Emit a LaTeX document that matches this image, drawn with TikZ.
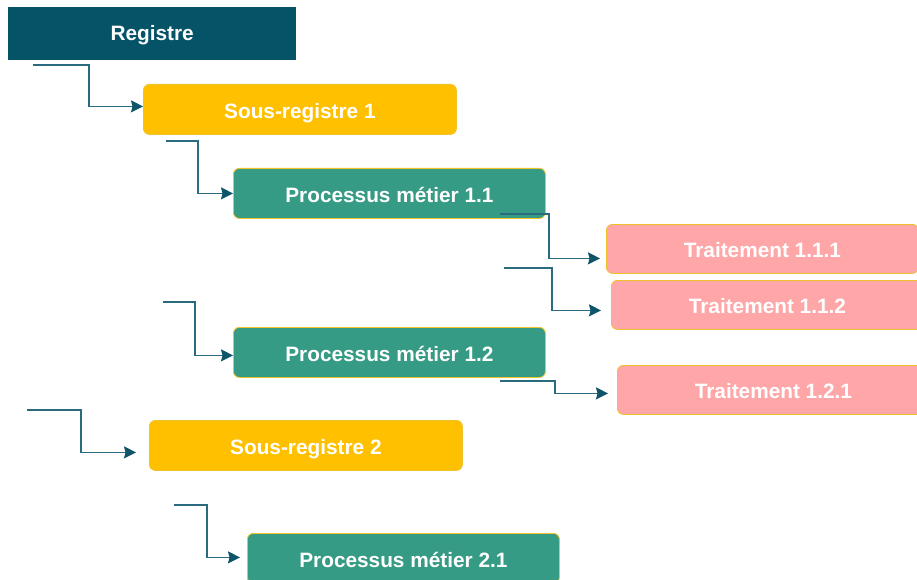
\documentclass[tikz,border=0pt]{standalone}
\usepackage{fontspec}
\setmainfont{Liberation Sans}
\usetikzlibrary{arrows.meta}

\definecolor{regteal}{HTML}{045366}
\definecolor{sousjaune}{HTML}{FFC000}
\definecolor{procvert}{HTML}{369B85}
\definecolor{traitrose}{HTML}{FFA6A8}
\definecolor{bordjaune}{HTML}{EEC22A}
\definecolor{lienbleu}{HTML}{2A6B80}
\definecolor{pointebleu}{HTML}{0F556A}

\tikzset{
  boite/.style = {anchor=north west, inner sep=0pt, text=white,
    font=\fontsize{20.8}{24}\selectfont\bfseries, text height=20pt, text depth=2pt},
  registre/.style = {boite, fill=regteal, minimum width=288pt, minimum height=53pt,
    text height=17pt, text depth=4pt},
  sousreg/.style = {boite, fill=sousjaune, draw=bordjaune, line width=0.8pt,
    rounded corners=6pt, minimum width=313pt, minimum height=50pt},
  processus/.style = {boite, fill=procvert, draw=bordjaune, line width=0.8pt,
    rounded corners=6pt, minimum width=312pt, minimum height=50pt},
  traitement/.style = {boite, fill=traitrose, draw=bordjaune, line width=0.8pt,
    rounded corners=6pt, minimum width=312pt, minimum height=49pt},
  lien/.style = {draw=lienbleu, line width=1.3pt,
    -{Stealth[length=12pt, width=12pt, inset=1.5pt, fill=pointebleu, color=pointebleu]}}
}

\begin{document}
\begin{tikzpicture}[x=1pt, y=-1pt]
  \useasboundingbox (0,0) rectangle (917,580);

  \node[registre] (reg) at (8,7) {Registre};
  \node[sousreg] (sr1) at (143,84) {Sous-registre 1};
  \node[processus] (p11) at (233,168) {Processus métier 1.1};
  \node[traitement] (t111) at (606,224) {Traitement 1.1.1};
  \node[traitement] (t112) at (611,280) {Traitement 1.1.2};
  \node[processus] (p12) at (233,327) {Processus métier 1.2};
  \node[traitement] (t121) at (617,365) {Traitement 1.2.1};
  \node[sousreg] (sr2) at (149,420) {Sous-registre 2};
  \node[processus] (p21) at (247,533) {Processus métier 2.1};

  \coordinate (d1) at (33,65);
  \coordinate (d2) at (166,141);
  \coordinate (d3) at (500,214);
  \coordinate (d4) at (504,268);
  \coordinate (d5) at (163,302);
  \coordinate (d6) at (500,381);
  \coordinate (d7) at (27,410);
  \coordinate (d8) at (174,505);

  \draw[lien] (d1) -| ([xshift=-54pt,yshift=3pt]sr1.west) -- ([yshift=3pt]sr1.west);
  \draw[lien] (d2) -| ([xshift=-35pt]p11.west) -- (p11.west);
  \draw[lien, shorten >=6pt] (d3) -| ([xshift=-57pt,yshift=-9.5pt]t111.west) -- ([yshift=-9.5pt]t111.west);
  \draw[lien, shorten >=10pt] (d4) -| ([xshift=-59pt,yshift=-5.5pt]t112.west) -- ([yshift=-5.5pt]t112.west);
  \draw[lien] (d5) -| ([xshift=-38pt,yshift=-3pt]p12.west) -- ([yshift=-3pt]p12.west);
  \draw[lien, shorten >=9pt] (d6) -| ([xshift=-62pt,yshift=-3.5pt]t121.west) -- ([yshift=-3.5pt]t121.west);
  \draw[lien, shorten >=13pt] (d7) -| ([xshift=-68pt,yshift=-7pt]sr2.west) -- ([yshift=-7pt]sr2.west);
  \draw[lien, shorten >=7pt] (d8) -| ([xshift=-40pt,yshift=1pt]p21.west) -- ([yshift=1pt]p21.west);
\end{tikzpicture}
\end{document}
